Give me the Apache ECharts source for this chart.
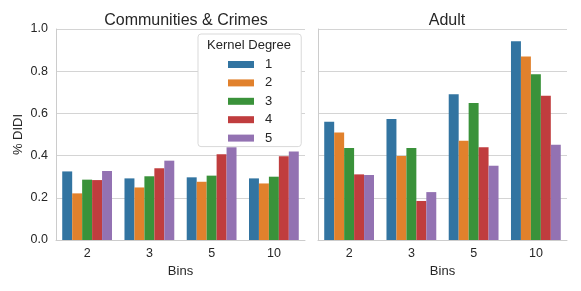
<!DOCTYPE html>
<html>
<head>
<meta charset="utf-8">
<script src="https://cdn.jsdelivr.net/npm/echarts@6/dist/echarts.min.js"></script>
<style>html,body{margin:0;padding:0;background:#fff}#c{width:581px;height:291px}</style>
</head>
<body>
<div id="c"></div>
<script>
const categories = ['2', '3', '5', '10'];
const degrees = ['1', '2', '3', '4', '5'];
// Communities & Crimes, one array per kernel degree
const comm1 = [0.325, 0.292, 0.297, 0.292];
const comm2 = [0.221, 0.249, 0.276, 0.268];
const comm3 = [0.286, 0.302, 0.305, 0.300];
const comm4 = [0.284, 0.340, 0.406, 0.397];
const comm5 = [0.327, 0.376, 0.440, 0.419];
// Adult
const adult1 = [0.560, 0.573, 0.691, 0.942];
const adult2 = [0.510, 0.398, 0.470, 0.870];
const adult3 = [0.436, 0.436, 0.649, 0.786];
const adult4 = [0.311, 0.185, 0.440, 0.684];
const adult5 = [0.308, 0.227, 0.352, 0.451];
const yTicks = [0, 0.2, 0.4, 0.6, 0.8, 1.0];

const colors = ['#3274a1', '#e1812c', '#3a923a', '#c03d3e', '#9372b2'];
const commData = [comm1, comm2, comm3, comm4, comm5];
const adultData = [adult1, adult2, adult3, adult4, adult5];
const txt = '#262626';
const gridCol = '#d4d4d4';
const font = 'Liberation Sans, Arial, sans-serif';

function xAx(idx) {
  return {
    type: 'category', gridIndex: idx, data: categories,
    name: 'Bins', nameLocation: 'middle', nameGap: 21,
    nameTextStyle: { color: txt, fontSize: 13, fontFamily: font },
    axisLine: { show: true, lineStyle: { color: '#cccccc', width: 1 } },
    axisTick: { show: false },
    axisLabel: { color: txt, fontSize: 12.5, fontFamily: font, margin: 7 },
    splitLine: { show: false }
  };
}
function yAx(idx, showLabels) {
  return {
    type: 'value', gridIndex: idx, min: 0, max: 1.0, interval: 0.2,
    name: showLabels ? '% DIDI' : '', nameLocation: 'middle', nameGap: 31,
    nameTextStyle: { color: txt, fontSize: 13, fontFamily: font },
    axisLine: { show: true, lineStyle: { color: '#cccccc', width: 1 } },
    axisTick: { show: false },
    axisLabel: { show: showLabels, color: txt, fontSize: 12.5, fontFamily: font, margin: 8,
      formatter: v => yTicks.some(t => Math.abs(t - v) < 1e-9) ? v.toFixed(1) : '' },
    splitLine: { show: true, lineStyle: { color: gridCol, width: 1 } }
  };
}

const series = [];
degrees.forEach((d, i) => {
  series.push({ name: d, type: 'bar', xAxisIndex: 0, yAxisIndex: 0, data: commData[i],
    itemStyle: { color: colors[i] }, barGap: '0%', barCategoryGap: '20%' });
});
degrees.forEach((d, i) => {
  series.push({ name: d, type: 'bar', xAxisIndex: 1, yAxisIndex: 1, data: adultData[i],
    itemStyle: { color: colors[i] }, barGap: '0%', barCategoryGap: '20%' });
});

const chart = echarts.init(document.getElementById('c'), null, { renderer: 'canvas' });
chart.setOption({
  animation: false,
  color: colors,
  textStyle: { fontFamily: font },
  title: [
    { text: 'Communities & Crimes', left: 181, top: 8, textAlign: 'center',
      textStyle: { color: txt, fontSize: 16, fontWeight: 'normal', fontFamily: font } },
    { text: 'Adult', left: 442, top: 8, textAlign: 'center',
      textStyle: { color: txt, fontSize: 16, fontWeight: 'normal', fontFamily: font } }
  ],
  grid: [
    { left: 56, top: 29, width: 249, height: 211 },
    { left: 318, top: 29, width: 249, height: 211 }
  ],
  xAxis: [xAx(0), xAx(1)],
  yAxis: [yAx(0, true), yAx(1, false)],
  legend: {
    data: degrees, orient: 'vertical', left: 198, top: 34,
    icon: 'rect', itemWidth: 26, itemHeight: 7, itemGap: 5.4,
    padding: [24, 29, 2, 30],
    backgroundColor: '#ffffff', borderColor: '#d9d9d9', borderWidth: 1, borderRadius: 3,
    textStyle: { color: txt, fontSize: 13, fontFamily: font, lineHeight: 13, padding: [0, 0, 0, 6] },
    z: 20
  },
  graphic: [
    { type: 'text', z: 100, x: 249, y: 45,
      style: { text: 'Kernel Degree', fill: txt, fontSize: 13, fontFamily: font,
        textAlign: 'center', textVerticalAlign: 'middle' } }
  ],
  series: series
});
</script>
</body>
</html>
